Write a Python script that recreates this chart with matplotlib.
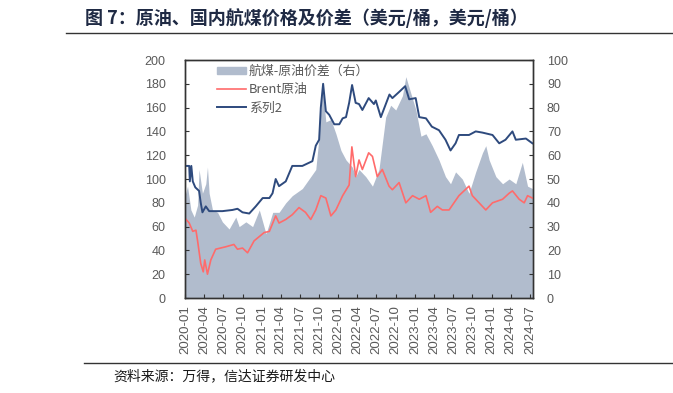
import pandas as pd
import matplotlib.pyplot as plt
import matplotlib.dates as mdates
from matplotlib.patches import Patch
from matplotlib.lines import Line2D

plt.rcParams['font.family'] = ['Noto Sans CJK SC', 'DejaVu Sans']

# 国内航煤 (系列2), 美元/桶
jet_dates = [
    "2020-01-01", "2020-01-21", "2020-01-24", "2020-01-31", "2020-02-07", "2020-02-19",
    "2020-03-08", "2020-03-16", "2020-03-24", "2020-04-09", "2020-04-25", "2020-06-27",
    "2020-08-14", "2020-09-07", "2020-10-01", "2020-11-02", "2020-12-03", "2021-01-05",
    "2021-02-06", "2021-02-21", "2021-03-08", "2021-03-24", "2021-04-25", "2021-05-26",
    "2021-07-13", "2021-08-30", "2021-09-15", "2021-10-01", "2021-10-09", "2021-10-20",
    "2021-11-02", "2021-11-18", "2021-12-12", "2022-01-05", "2022-01-21", "2022-02-06",
    "2022-02-21", "2022-03-07", "2022-03-24", "2022-04-09", "2022-04-25", "2022-05-25",
    "2022-06-19", "2022-06-28", "2022-07-22", "2022-09-01", "2022-09-15", "2022-10-16",
    "2022-11-15", "2022-12-04", "2023-01-04", "2023-01-21", "2023-02-22", "2023-03-22",
    "2023-04-25", "2023-05-26", "2023-06-19", "2023-07-13", "2023-07-29", "2023-09-15",
    "2023-10-17", "2023-11-18", "2024-01-05", "2024-02-06", "2024-03-07", "2024-04-09",
    "2024-04-25", "2024-06-12", "2024-07-13",
]
jet = [
    111, 111, 98, 111, 98, 93,
    90, 80, 72, 77, 73, 73,
    74, 75, 72, 71, 77, 84,
    84, 88, 100, 94, 98, 111,
    111, 115, 128, 133, 160, 180,
    157, 154, 146, 146, 151, 152,
    164, 179, 164, 163, 158, 168,
    163, 166, 152, 171, 168, 173,
    178, 167, 168, 152, 151, 144,
    141, 133, 124, 130, 137, 137,
    140, 139, 137, 130, 133, 140,
    133, 134, 130,
]

# Brent原油, 美元/桶
brent_dates = [
    "2020-01-01", "2020-01-21", "2020-02-07", "2020-02-22", "2020-03-01", "2020-03-16",
    "2020-03-28", "2020-04-04", "2020-04-17", "2020-05-03", "2020-05-26", "2020-07-12",
    "2020-08-21", "2020-09-07", "2020-10-01", "2020-10-25", "2020-11-25", "2021-01-12",
    "2021-02-06", "2021-03-08", "2021-03-24", "2021-04-25", "2021-05-26", "2021-06-27",
    "2021-07-28", "2021-08-22", "2021-09-15", "2021-10-09", "2021-11-02", "2021-11-26",
    "2021-12-20", "2022-01-21", "2022-02-21", "2022-03-06", "2022-03-24", "2022-04-09",
    "2022-04-25", "2022-05-25", "2022-06-12", "2022-07-05", "2022-07-29", "2022-08-30",
    "2022-09-15", "2022-10-17", "2022-11-18", "2022-12-20", "2023-01-21", "2023-02-22",
    "2023-03-16", "2023-04-17", "2023-05-11", "2023-06-12", "2023-07-29", "2023-09-15",
    "2023-10-01", "2023-11-02", "2023-12-04", "2024-01-05", "2024-02-22", "2024-03-24",
    "2024-04-09", "2024-05-11", "2024-06-04", "2024-06-20", "2024-07-13",
]
brent = [
    67, 63, 56, 57, 48, 29,
    22, 32, 20, 32, 41, 43,
    45, 41, 42, 38, 48, 55,
    56, 69, 63, 66, 70, 76,
    72, 66, 74, 86, 84, 69,
    74, 86, 95, 127, 102, 116,
    108, 122, 119, 102, 108, 94,
    91, 97, 80, 86, 83, 86,
    72, 77, 74, 74, 86, 94,
    86, 80, 74, 80, 83, 88,
    90, 83, 80, 86, 84,
]

# 航煤-原油价差 (右轴)
spread_dates = [
    "2020-01-01", "2020-01-13", "2020-01-29", "2020-02-14", "2020-03-01", "2020-03-08",
    "2020-03-24", "2020-04-09", "2020-04-17", "2020-04-25", "2020-05-11", "2020-06-04",
    "2020-06-27", "2020-07-29", "2020-08-30", "2020-09-15", "2020-10-17", "2020-11-18",
    "2020-12-20", "2021-01-21", "2021-02-22", "2021-03-24", "2021-04-25", "2021-05-26",
    "2021-07-13", "2021-08-22", "2021-09-15", "2021-10-01", "2021-10-17", "2021-11-02",
    "2021-11-26", "2021-12-20", "2022-01-13", "2022-02-06", "2022-03-08", "2022-03-24",
    "2022-04-09", "2022-05-11", "2022-06-12", "2022-07-13", "2022-08-14", "2022-09-07",
    "2022-10-01", "2022-11-02", "2022-11-18", "2022-12-12", "2023-01-05", "2023-01-29",
    "2023-02-22", "2023-03-24", "2023-04-25", "2023-05-26", "2023-06-19", "2023-07-13",
    "2023-08-14", "2023-09-15", "2023-10-17", "2023-11-18", "2023-12-04", "2023-12-20",
    "2024-01-21", "2024-02-22", "2024-03-24", "2024-04-25", "2024-05-26", "2024-06-20",
    "2024-07-13",
]
spread = [
    43, 47, 37, 34, 39, 54,
    44, 48, 55, 44, 37, 36,
    32, 29, 34, 30, 32, 30,
    37, 27, 36, 36, 40, 43,
    46, 51, 54, 68, 89, 74,
    75, 69, 62, 58, 55, 51,
    54, 51, 47, 54, 76, 81,
    79, 85, 93, 86, 79, 68,
    69, 64, 58, 51, 48, 53,
    50, 44, 53, 61, 64, 58,
    51, 48, 50, 48, 57, 47,
    46,
]

tick_dates = pd.date_range("2020-01-01", "2024-07-01", freq="3MS")

area_color = '#b1bccd'
red = '#ff6b6b'
navy = '#2e4a7d'
gray = '#595959'
num_font = ['Liberation Sans', 'DejaVu Sans']

fig = plt.figure(figsize=(6.73, 3.93), dpi=100)
ax = fig.add_axes([0.2749, 0.2417, 0.5171, 0.6056])
ax2 = ax.twinx()

ax2.fill_between(pd.to_datetime(spread_dates), spread, 0, color=area_color, linewidth=0)
ax.plot(pd.to_datetime(brent_dates), brent, color=red, linewidth=1.2)
ax.plot(pd.to_datetime(jet_dates), jet, color=navy, linewidth=1.4)

# keep the line axes above the area axes
ax.set_zorder(ax2.get_zorder() + 1)
ax.patch.set_visible(False)

ax.set_xlim(pd.Timestamp("2020-01-01"), pd.Timestamp("2024-07-16"))
ax.set_ylim(0, 200)
ax2.set_ylim(0, 100)
ax.set_yticks(range(0, 201, 20))
ax2.set_yticks(range(0, 101, 10))
ax.set_xticks(tick_dates)
ax.xaxis.set_major_formatter(mdates.DateFormatter('%Y-%m'))
ax.tick_params(axis='x', labelrotation=90, colors=gray, direction='in',
               length=3, color='#333333', pad=5)
ax.tick_params(axis='y', colors=gray, direction='in', length=3, color='#333333', pad=14)
ax2.tick_params(axis='y', colors=gray, direction='in', length=3, color='#333333', pad=10)
for lab in ax.get_xticklabels():
    lab.set_fontfamily(num_font)
    lab.set_fontsize(9.5)
for lab in ax.get_yticklabels() + ax2.get_yticklabels():
    lab.set_fontfamily(num_font)
    lab.set_fontsize(9)
for a in (ax, ax2):
    for s in a.spines.values():
        s.set_color('#333333')
        s.set_linewidth(1.0)

handles = [Patch(color=area_color, label='航煤-原油价差（右）'),
           Line2D([], [], color=red, linewidth=1.2, label='Brent原油'),
           Line2D([], [], color=navy, linewidth=1.4, label='系列2')]
leg = ax.legend(handles=handles, loc='upper left', bbox_to_anchor=(0.078, 1.0), frameon=False,
                fontsize=9.3, handlelength=2.2, handleheight=0.55, handletextpad=0.25,
                labelspacing=0.4, borderaxespad=0.0)
for t in leg.get_texts():
    t.set_color(gray)

fig.text(85 / 673, 1 - 18 / 393, '图 7：原油、国内航煤价格及价差（美元/桶，美元/桶）',
         fontsize=13, fontweight='bold', color='#1f2a44', va='center', ha='left')
fig.add_artist(Line2D([66 / 673, 1.0], [1 - 33 / 393, 1 - 33 / 393], color='#333333', linewidth=1.0))
fig.add_artist(Line2D([84 / 673, 1.0], [1 - 363 / 393, 1 - 363 / 393], color='#333333', linewidth=1.0))
fig.text(113 / 673, 1 - 376 / 393, '资料来源：万得，信达证券研发中心',
         fontsize=10, color='#1a1a1a', va='center', ha='left')

fig.savefig('out.png', dpi=100)
